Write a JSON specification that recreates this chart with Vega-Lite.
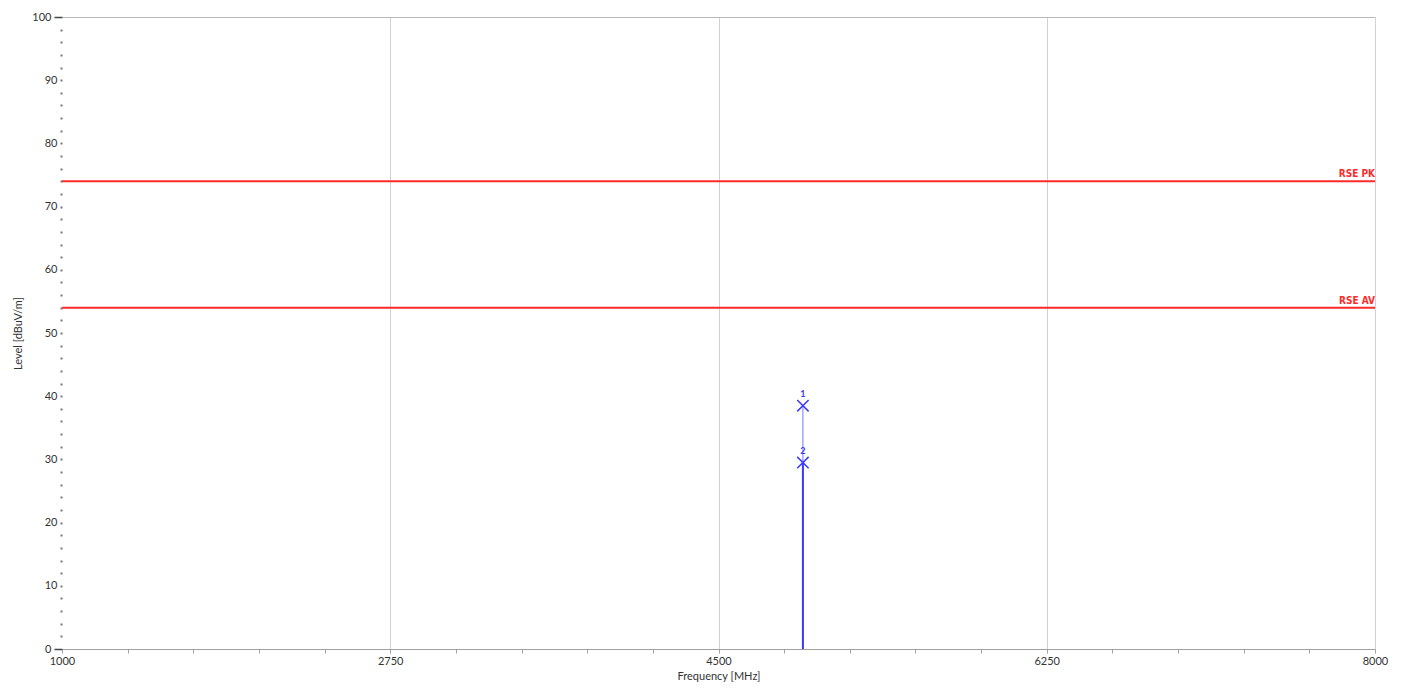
{
  "$schema": "https://vega.github.io/schema/vega-lite/v6.json",
  "autosize": "none",
  "width": 1313,
  "height": 632,
  "padding": {"left": 62, "top": 17, "right": 26, "bottom": 48},
  "background": "white",
  "config": {
    "view": {"stroke": null},
    "font": "Lato",
    "axis": {"labelFont": "Lato", "titleFont": "Lato", "labelColor": "#333333", "titleColor": "#333333", "labelFontSize": 11, "titleFontSize": 11, "titleFontWeight": "normal", "labelOverlap": false, "labelFlush": false, "labelBound": false}
  },
  "datasets": {
    "limits": [
      {"name": "RSE PK", "level": 74},
      {"name": "RSE AV", "level": 54}
    ],
    "traces": [
      {"freq": 4950, "low": 0, "top": 38.5, "trace": "PK"},
      {"freq": 4950, "low": 0, "top": 29.5, "trace": "AV"}
    ],
    "markers": [
      {"freq": 4950, "level": 38.5, "id": "1"},
      {"freq": 4950, "level": 29.5, "id": "2"}
    ]
  },
  "layer": [
    {
      "data": {"name": "traces"},
      "mark": {"type": "rule", "color": "#3a3aff"},
      "encoding": {
        "x": {
          "field": "freq", "type": "quantitative",
          "scale": {"domain": [1000, 8000], "nice": false, "zero": false},
          "axis": {
            "title": "Frequency [MHz]",
            "titlePadding": 4,
            "domain": true,
            "domainColor": "#a0a0a0",
            "values": [1000,1350,1700,2050,2400,2750,3100,3450,3800,4150,4500,4850,5200,5550,5900,6250,6600,6950,7300,7650,8000],
            "tickCount": 100,
            "labelExpr": "(datum.value - 1000) % 1750 == 0 ? datum.label : ''",
            "format": "d",
            "tickColor": "#a0a0a0",
            "tickSize": 4,
            "labelPadding": 2,
            "grid": true,
            "gridColor": {"condition": {"test": "(datum.value - 1000) % 1750 == 0 && datum.value > 1000", "value": "#d2d2d2"}, "value": "transparent"}
          }
        },
        "y": {
          "field": "low", "type": "quantitative",
          "scale": {"domain": [0, 100], "nice": false, "zero": false},
          "axis": {
            "title": "Level [dBuV/m]",
            "titlePadding": 8,
            "domain": false,
            "values": [0,2,4,6,8,10,12,14,16,18,20,22,24,26,28,30,32,34,36,38,40,42,44,46,48,50,52,54,56,58,60,62,64,66,68,70,72,74,76,78,80,82,84,86,88,90,92,94,96,98,100],
            "tickCount": 200,
            "format": "d",
            "labelExpr": "datum.value % 10 == 0 ? datum.label : ''",
            "tickColor": {"condition": {"test": "datum.value == 0 || datum.value == 100", "value": "#444444"}, "value": "#777777"},
            "tickSize": {"condition": {"test": "datum.value == 0 || datum.value == 100", "value": 8}, "value": 2},
            "tickWidth": {"condition": {"test": "datum.value == 0 || datum.value == 100", "value": 1.5}, "value": 2},
            "labelPadding": 3,
            "grid": true,
            "gridColor": {"condition": {"test": "datum.value == 100", "value": "#b8b8b8"}, "value": "transparent"}
          }
        },
        "y2": {"field": "top"},
        "strokeWidth": {"field": "trace", "type": "nominal", "scale": {"domain": ["PK", "AV"], "range": [1, 2]}, "legend": null},
        "opacity": {"field": "trace", "type": "nominal", "scale": {"domain": ["PK", "AV"], "range": [0.7, 1]}, "legend": null}
      }
    },
    {
      "data": {"name": "limits"},
      "mark": {"type": "rule", "color": "#ff2a2a", "strokeWidth": 2},
      "encoding": {
        "y": {"field": "level", "type": "quantitative"}
      }
    },
    {
      "data": {"name": "limits"},
      "mark": {"type": "text", "color": "#ff2a2a", "fontWeight": "bold", "fontSize": 10, "align": "right", "baseline": "bottom", "dy": -2, "font": "DejaVu Sans Condensed"},
      "encoding": {
        "x": {"datum": 8000, "type": "quantitative"},
        "y": {"field": "level", "type": "quantitative"},
        "text": {"field": "name"}
      }
    },
    {
      "data": {"name": "markers"},
      "mark": {"type": "point", "shape": "M-1,-1L1,1M-1,1L1,-1", "filled": false, "color": "#3a3aff", "strokeWidth": 1.5, "size": 130, "opacity": 1},
      "encoding": {
        "x": {"field": "freq", "type": "quantitative"},
        "y": {"field": "level", "type": "quantitative"}
      }
    },
    {
      "data": {"name": "markers"},
      "mark": {"type": "text", "color": "#3a3aff", "fontSize": 9, "fontWeight": "bold", "baseline": "bottom", "dy": -7},
      "encoding": {
        "x": {"field": "freq", "type": "quantitative"},
        "y": {"field": "level", "type": "quantitative"},
        "text": {"field": "id"}
      }
    }
  ]
}
